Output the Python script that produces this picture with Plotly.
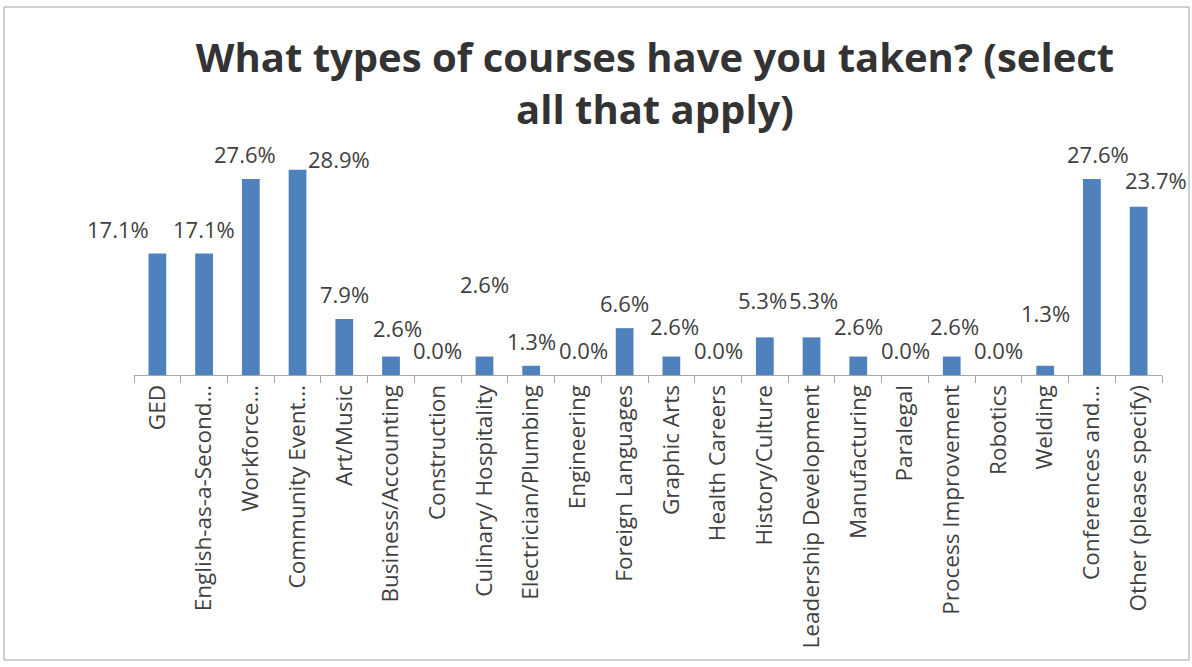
import plotly.graph_objects as go

categories = [
    "GED", "English-as-a-Second…", "Workforce…", "Community Event…", "Art/Music",
    "Business/Accounting", "Construction", "Culinary/ Hospitality", "Electrician/Plumbing",
    "Engineering", "Foreign Languages", "Graphic Arts", "Health Careers", "History/Culture",
    "Leadership Development", "Manufacturing", "Paralegal", "Process Improvement",
    "Robotics", "Welding", "Conferences and…", "Other (please specify)",
]
values = [17.1, 17.1, 27.6, 28.9, 7.9, 2.6, 0.0, 2.6, 1.3, 0.0, 6.6, 2.6, 0.0, 5.3,
          5.3, 2.6, 0.0, 2.6, 0.0, 1.3, 27.6, 23.7]
labels = [f"{v:.1f}%" for v in values]

# label nudges (pixels) mimicking the original's overlap avoidance
label_nudge = {
    "GED": (-39, 0),
    "Workforce…": (-6, 0),
    "Community Event…": (41, -14),
    "Business/Accounting": (6, 4),
    "Culinary/ Hospitality": (0, 48),
    "Engineering": (6, 0),
    "History/Culture": (-2, 12),
    "Leadership Development": (2, 12),
    "Manufacturing": (0, 6),
    "Graphic Arts": (3, 6),
    "Process Improvement": (3, 6),
    "Welding": (0, 28),
    "Conferences and…": (6, 0),
    "Other (please specify)": (17, 2),
}

FONT = "Open Sans"
fig = go.Figure(go.Bar(
    x=categories, y=values, cliponaxis=False,
    marker=dict(color="#4F81BD", line=dict(width=0)),
))

for c, v, t in zip(categories, values, labels):
    dx, dy = label_nudge.get(c, (0, 0))
    fig.add_annotation(
        x=c, y=v, text=t, showarrow=False, xanchor="center", yanchor="middle",
        xshift=dx, yshift=25 + dy,
        font=dict(family=FONT, size=22, color="#404040"),
    )

L, R, B, T = 134, 30, 292, 162
plot_h = 667 - B - T
plot_w = 1192 - L - R

fig.update_layout(
    width=1192, height=667,
    margin=dict(l=L, r=R, t=T, b=B),
    paper_bgcolor="white", plot_bgcolor="white",
    bargap=0.62, showlegend=False,
    title=dict(
        text="<b>What types of courses have you taken? (select<br>all that apply)</b>",
        x=655 / 1192, xanchor="center", xref="container",
        y=1 - 72 / 667, yanchor="top", yref="container",
        font=dict(family=FONT, size=40, color="#333333"),
    ),
    xaxis=dict(
        type="category", tickangle=-90, tickson="boundaries",
        range=[-0.5, len(categories) - 0.5], autorange=False,
        ticks="outside", ticklen=7, tickcolor="#A6A6A6",
        showline=True, linecolor="#A6A6A6", linewidth=1,
        tickfont=dict(family=FONT, size=22.5, color="#404040"),
        showgrid=False,
    ),
    yaxis=dict(visible=False, range=[0, 30], autorange=False, showgrid=False, zeroline=False),
    shapes=[dict(
        type="rect", xref="paper", yref="paper",
        x0=(4 - L) / plot_w, x1=(1189 - L) / plot_w,
        y0=-(660 - (667 - B)) / plot_h, y1=((667 - B) - 7) / plot_h,
        line=dict(color="#A0A0A0", width=1), fillcolor="rgba(0,0,0,0)", layer="below",
    )],
)

fig.write_html("out.html", config={"displayModeBar": False})
with open("out.html", "r", encoding="utf-8") as f:
    html = f.read()
html = html.replace("<head>", "<head><style>html,body{margin:0;padding:0;}</style>", 1)
with open("out.html", "w", encoding="utf-8") as f:
    f.write(html)
